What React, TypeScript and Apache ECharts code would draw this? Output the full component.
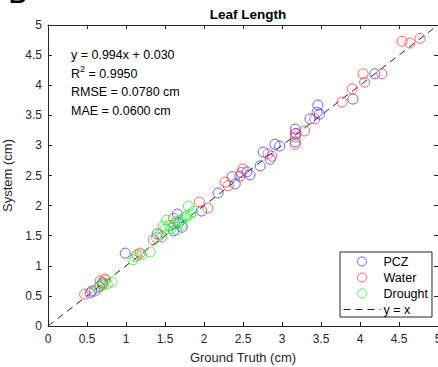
import React, { useEffect, useRef } from "react";
import * as echarts from "echarts";

const pczData: number[][] = [
  [0.54, 0.55], [0.56, 0.58], [0.66, 0.66], [0.70, 0.72], [0.99, 1.21], [1.40, 1.53],
  [1.61, 1.58], [1.66, 1.86], [1.72, 1.64], [1.68, 1.72], [1.97, 1.91], [2.18, 2.21],
  [2.36, 2.48], [2.40, 2.36], [2.46, 2.49], [2.55, 2.56], [2.59, 2.51], [2.72, 2.66],
  [2.76, 2.89], [2.85, 2.77], [2.91, 3.02], [2.97, 2.99], [3.17, 3.27], [3.17, 3.06],
  [3.18, 3.20], [3.36, 3.44], [3.45, 3.55], [3.46, 3.67], [3.48, 3.52], [3.91, 3.77],
  [4.19, 4.19],
];

const waterData: number[][] = [
  [0.47, 0.53], [0.60, 0.58], [0.67, 0.75], [0.73, 0.78], [0.70, 0.70], [1.14, 1.18],
  [1.18, 1.21], [1.35, 1.43], [1.46, 1.48], [1.61, 1.79], [1.94, 2.06], [2.05, 1.96],
  [2.27, 2.39], [2.31, 2.33], [2.50, 2.61], [2.48, 2.55], [2.82, 2.86], [2.87, 2.82],
  [3.17, 3.19], [3.17, 3.02], [3.29, 3.24], [3.17, 3.14], [3.42, 3.44], [3.77, 3.72],
  [3.90, 3.94], [4.04, 4.19], [4.06, 4.05], [4.28, 4.19], [4.54, 4.73], [4.64, 4.70],
  [4.77, 4.78],
];

const droughtData: number[][] = [
  [0.63, 0.62], [0.66, 0.65], [0.70, 0.68], [0.76, 0.70], [0.82, 0.73], [0.74, 0.76],
  [1.09, 1.10], [1.12, 1.15], [1.20, 1.18], [1.31, 1.23], [1.39, 1.47], [1.44, 1.52],
  [1.50, 1.61], [1.48, 1.66], [1.52, 1.76], [1.55, 1.67], [1.58, 1.62], [1.62, 1.70],
  [1.65, 1.60], [1.66, 1.74], [1.70, 1.76], [1.75, 1.80], [1.72, 1.68], [1.80, 1.99],
  [1.83, 1.86], [1.86, 1.90], [1.78, 1.83],
];

const identityLine: number[][] = [[0, 0], [5, 5]];

const statLines: string[] = [
  "y = 0.994x + 0.030",
  "R{sup|2} = 0.9950",
  "RMSE = 0.0780 cm",
  "MAE = 0.0600 cm",
];

const FONT = "Liberation Sans, Arial, Helvetica, sans-serif";
const AXIS_COLOR = "#262626";
const BLUE = "#3a3aff";
const RED = "#ff3a3a";
const GREEN = "#2ee82e";

export default function App() {
  const ref = useRef<HTMLDivElement>(null);

  useEffect(() => {
    if (!ref.current) return;
    const chart = echarts.init(ref.current, undefined, { renderer: "svg" });

    const axisCommon = {
      type: "value" as const,
      min: 0,
      max: 5,
      interval: 0.5,
      splitLine: { show: false },
      axisLine: { show: true, onZero: false, lineStyle: { color: AXIS_COLOR, width: 1 } },
      axisTick: { show: true, inside: true, length: 4, lineStyle: { color: AXIS_COLOR } },
    };

    const scatterCommon = (name: string, data: number[][], color: string) => ({
      name,
      type: "scatter" as const,
      data,
      symbol: "circle",
      symbolSize: 10,
      itemStyle: { color: "rgba(0,0,0,0)", borderColor: color, borderWidth: 1 },
      emphasis: { disabled: true },
    });

    chart.setOption({
      animation: false,
      backgroundColor: "#ffffff",
      textStyle: { fontFamily: FONT },
      title: {
        text: "Leaf Length",
        left: 243,
        top: 2,
        textAlign: "center",
        textStyle: { fontSize: 13.5, fontWeight: "bold", color: "#000", fontFamily: FONT },
      },
      grid: { left: 48, right: 0, top: 25, bottom: 41, containLabel: false, outerBoundsMode: "none" },
      xAxis: [
        {
          ...axisCommon,
          position: "bottom",
          name: "Ground Truth (cm)",
          nameLocation: "middle",
          nameGap: 25,
          nameTextStyle: { fontSize: 13, color: AXIS_COLOR, fontFamily: FONT },
          axisLabel: { fontSize: 12, color: AXIS_COLOR, margin: 7, fontFamily: FONT },
        },
        {
          ...axisCommon,
          position: "top",
          axisLabel: { show: false },
        },
      ],
      yAxis: [
        {
          ...axisCommon,
          position: "left",
          name: "System (cm)",
          nameLocation: "middle",
          nameGap: 29,
          nameTextStyle: { fontSize: 13, color: AXIS_COLOR, fontFamily: FONT },
          axisLabel: { fontSize: 12, color: AXIS_COLOR, margin: 6, fontFamily: FONT },
        },
        {
          ...axisCommon,
          position: "right",
          axisLabel: { show: false },
        },
      ],
      legend: {
        orient: "vertical",
        left: 340,
        top: 252,
        width: 88,
        backgroundColor: "#ffffff",
        borderColor: AXIS_COLOR,
        borderWidth: 1,
        padding: [3, 4, 1, 3],
        itemGap: 3,
        itemWidth: 37,
        itemHeight: 9,
        textStyle: { fontSize: 12.5, color: "#000", fontFamily: FONT, padding: [0, 0, 0, -2] },
        data: [
          { name: "PCZ", icon: "circle", itemStyle: { color: "rgba(0,0,0,0)", borderColor: BLUE, borderWidth: 1 } },
          { name: "Water", icon: "circle", itemStyle: { color: "rgba(0,0,0,0)", borderColor: RED, borderWidth: 1 } },
          { name: "Drought", icon: "circle", itemStyle: { color: "rgba(0,0,0,0)", borderColor: GREEN, borderWidth: 1 } },
          {
            name: "y = x",
            itemStyle: { opacity: 0 },
            lineStyle: { color: AXIS_COLOR, width: 1, type: [7, 5], opacity: 1 },
          },
        ],
      },
      graphic: [
        {
          type: "text",
          left: 9,
          top: -18,
          style: { text: "B", font: `bold 24px ${FONT}`, fill: "#000" },
          silent: true,
        },
        {
          type: "text",
          left: 71,
          top: 46,
          style: {
            text: statLines.join("\n"),
            font: `12.5px ${FONT}`,
            fill: "#000",
            lineHeight: 18.5,
            rich: {
              sup: { fontSize: 9, verticalAlign: "top", lineHeight: 18.5, padding: [0, 0, 6, 0] },
            },
          },
          silent: true,
        },
      ],
      series: [
        scatterCommon("PCZ", pczData, BLUE),
        scatterCommon("Water", waterData, RED),
        scatterCommon("Drought", droughtData, GREEN),
        {
          name: "y = x",
          type: "line",
          data: identityLine,
          symbol: "none",
          lineStyle: { color: AXIS_COLOR, width: 1, type: [7, 5] },
          itemStyle: { color: AXIS_COLOR },
          z: 1,
          emphasis: { disabled: true },
        },
      ],
    });

    return () => chart.dispose();
  }, []);

  return (
    <div
      ref={ref}
      style={{ position: "fixed", left: 0, top: 0, width: 438, height: 367, background: "#fff" }}
    />
  );
}
